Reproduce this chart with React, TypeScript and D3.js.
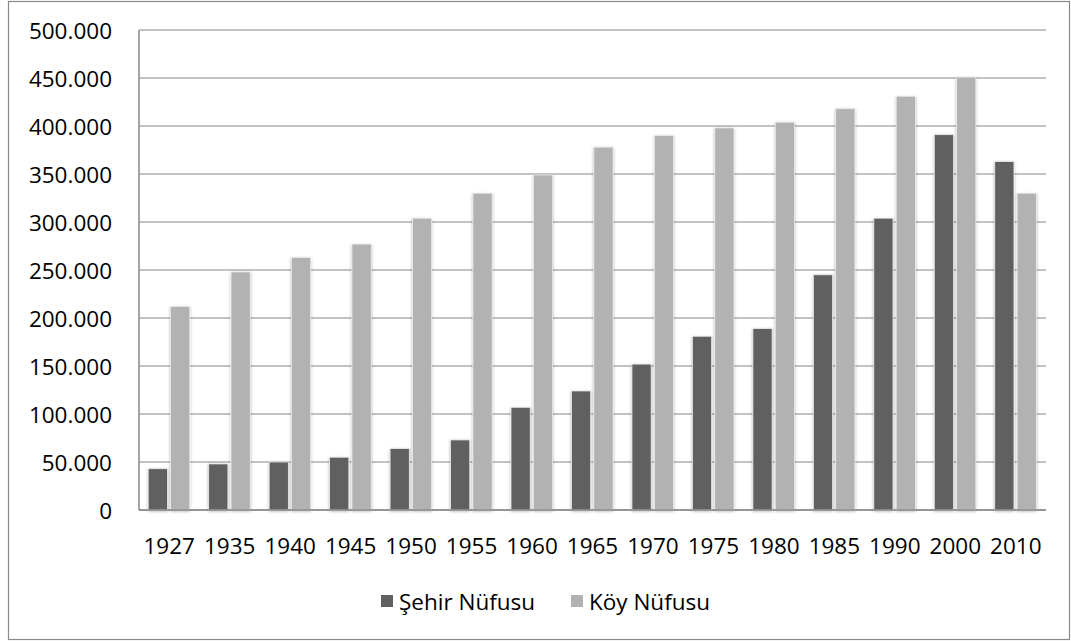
import React from "react";
import * as d3 from "d3";

const categories = ["1927","1935","1940","1945","1950","1955","1960","1965","1970","1975","1980","1985","1990","2000","2010"];
const seriesNames = ["Şehir Nüfusu", "Köy Nüfusu"];
const sehir = [43000, 48000, 50000, 55000, 64000, 73000, 107000, 124000, 152000, 181000, 189000, 245000, 304000, 391000, 363000];
const koy = [212000, 248000, 263000, 277000, 304000, 330000, 349000, 378000, 390000, 398000, 404000, 418000, 431000, 451000, 330000];
const yTicks = [0, 50000, 100000, 150000, 200000, 250000, 300000, 350000, 400000, 450000, 500000];
const colors = ["#606060", "#b2b2b2"];

const W = 1071, H = 641;
const left = 139, right = 1046, top = 30, bottom = 510;
const FONT = "'Open Sans', Lato, sans-serif";
const FS = 22.5;

export default function App() {
  const x = d3.scaleBand<string>().domain(categories).range([left, right]).paddingInner(0).paddingOuter(0);
  const x1 = d3.scaleBand<string>().domain(seriesNames).range([9.2, 50.8]).paddingInner(0.14);
  const y = d3.scaleLinear().domain([0, 500000]).range([bottom, top]);
  const loc = d3.formatLocale({ thousands: ".", grouping: [3], decimal: ",", currency: ["", ""] });
  const fmt = loc.format(",");
  const data = [sehir, koy];

  return (
    <svg width={W} height={H} style={{ position: "absolute", left: 0, top: 0 }}>
      <defs>
        <filter id="sh" x="-30%" y="-10%" width="160%" height="120%">
          <feGaussianBlur in="SourceAlpha" stdDeviation="1.6" />
          <feOffset dx="0" dy="1" result="b" />
          <feComponentTransfer>
            <feFuncA type="linear" slope="0.3" />
          </feComponentTransfer>
          <feMerge>
            <feMergeNode />
            <feMergeNode in="SourceGraphic" />
          </feMerge>
        </filter>
      </defs>
      <rect x={0} y={0} width={W} height={H} fill="#fff" />
      <rect x={8.5} y={1.5} width={1061} height={638} fill="none" stroke="#8a8a8a" strokeWidth={1.2} />
      {yTicks.map((t) => (
        <line key={t} x1={left} x2={right} y1={y(t)} y2={y(t)} stroke="#878787" strokeWidth={1.2} />
      ))}
      {yTicks.map((t) => (
        <text key={"l" + t} x={112} y={y(t)} textAnchor="end" dominantBaseline="central" fontFamily={FONT} fontSize={FS} fill="#000">
          {fmt(t)}
        </text>
      ))}
      {categories.map((c, i) => (
        <g key={c} transform={`translate(${x(c)},0)`}>
          {seriesNames.map((s, j) => (
            <rect key={s} x={x1(s)} y={y(data[j][i])} width={x1.bandwidth()} height={bottom - y(data[j][i])}
              fill={colors[j]} stroke="#ececec" strokeWidth={0.8} filter="url(#sh)" />
          ))}
        </g>
      ))}
      <line x1={left} x2={left} y1={top} y2={bottom} stroke="#878787" strokeWidth={1.5} />
      <line x1={left} x2={right} y1={bottom} y2={bottom} stroke="#878787" strokeWidth={1.5} />
      {categories.map((c) => (
        <text key={"x" + c} x={(x(c) as number) + x.bandwidth() / 2} y={545} textAnchor="middle" dominantBaseline="central" fontFamily={FONT} fontSize={FS} fill="#000">
          {c}
        </text>
      ))}
      <g>
        <rect x={381} y={595} width={12} height={12} fill={colors[0]} />
        <text x={399} y={601} dominantBaseline="central" fontFamily={FONT} fontSize={FS} fill="#000">{seriesNames[0]}</text>
        <rect x={571} y={595} width={12} height={12} fill={colors[1]} />
        <text x={589} y={601} dominantBaseline="central" fontFamily={FONT} fontSize={FS} fill="#000">{seriesNames[1]}</text>
      </g>
    </svg>
  );
}
